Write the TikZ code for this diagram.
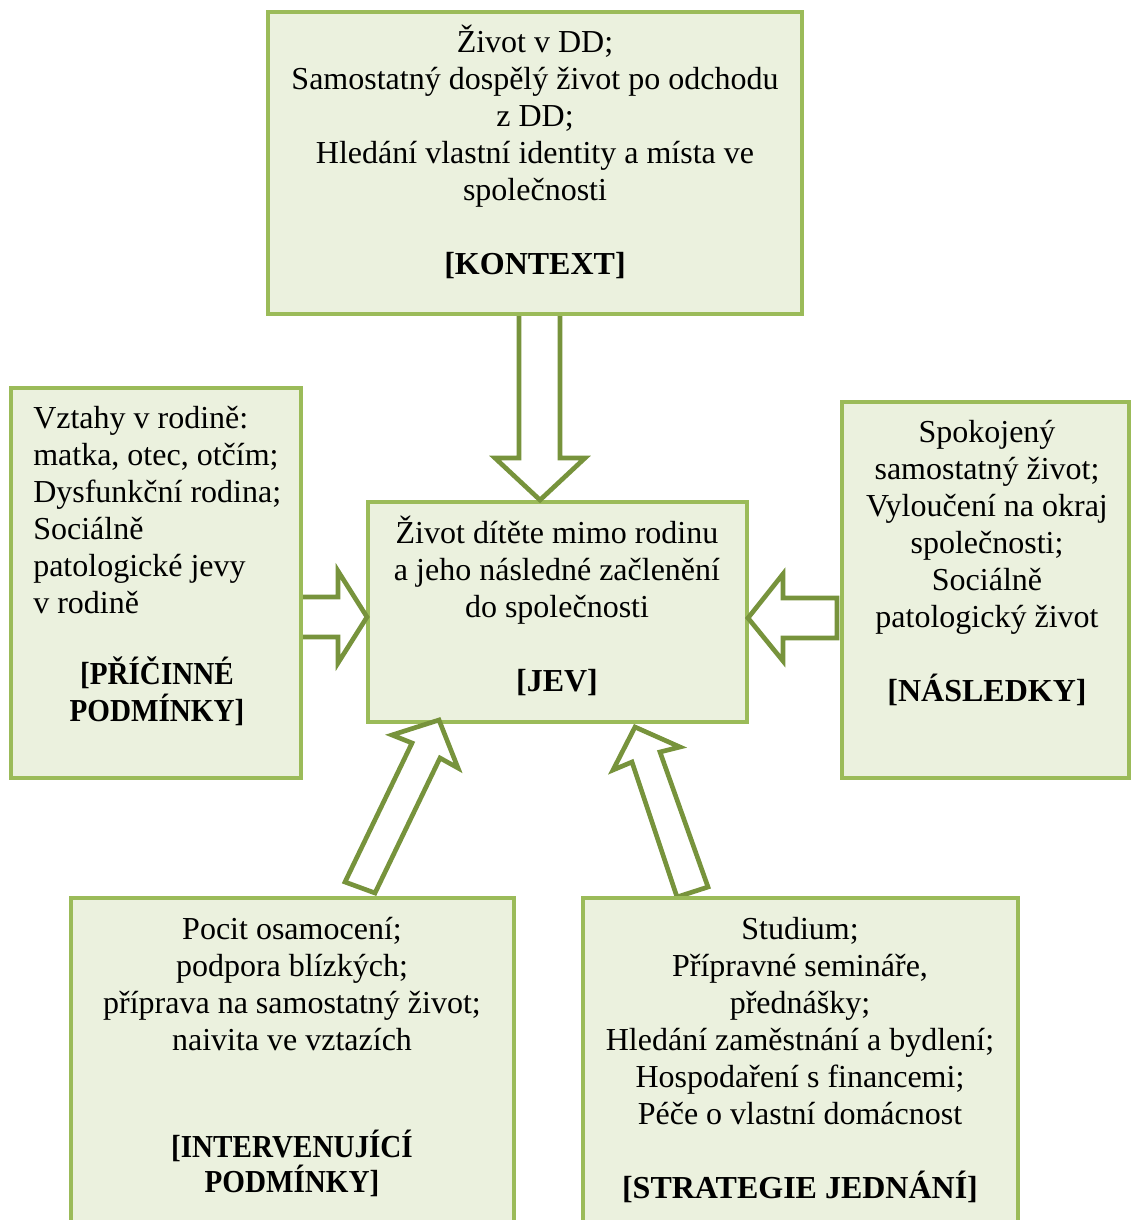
\documentclass[tikz,border=0pt]{standalone}
\usepackage{fontspec}
\usepackage{graphicx}
\setmainfont{Liberation Serif}
\definecolor{boxline}{HTML}{9BBB59}
\definecolor{boxfill}{HTML}{EBF1DE}
\definecolor{arrline}{HTML}{77933C}
\newcommand{\narrowbf}[1]{\scalebox{0.91}[1]{\textbf{#1}}}
\begin{document}
\begin{tikzpicture}[x=0.75pt,y=-0.75pt,
  box/.style={draw=boxline,fill=boxfill,line width=3pt,inner sep=0pt,outer sep=0pt,rectangle},
  blockarrow/.style={draw=arrline,fill=white,line width=3.5pt,line join=miter},
  txt/.style={inner sep=0pt,font=\fontsize{24}{27.75}\selectfont,execute at begin node=\strut,execute at end node=\strut}]
\useasboundingbox (0,0) rectangle (1133,1220);
\clip (0,0) rectangle (1133,1220);
% central box first so arrow tips lie over it
\node[box,minimum width=284.25pt,minimum height=165pt] (jev) at (557.5,612) {};
% block arrows
\draw[blockarrow] (519,300) -- (519,458) -- (495,458) -- (540,500) -- (585,458) -- (560,458) -- (560,300) -- cycle;
\draw[blockarrow] (280,597) -- (338,597) -- (338,571) -- (367,617) -- (338,663) -- (338,637) -- (280,637) -- cycle;
\draw[blockarrow] (837,598) -- (783,598) -- (783,574) -- (748,618) -- (783,661) -- (783,638) -- (837,638) -- cycle;
\draw[blockarrow] (345,882) -- (412,743) -- (392,735) -- (439,720) -- (458,768) -- (440,758) -- (375,893) -- cycle;
\draw[blockarrow] (677,897) -- (632,762) -- (613,770) -- (635,727) -- (680,747) -- (660,752) -- (708,887) -- cycle;
% surrounding boxes
\node[box,minimum width=400.5pt,minimum height=226.5pt] (ctx) at (535,163) {};
\node[box,minimum width=217.5pt,minimum height=292.5pt] (cause) at (156,583) {};
\node[box,minimum width=215.25pt,minimum height=282pt] (cons) at (985.5,590) {};
\node[box,minimum width=332.25pt,minimum height=264pt] (inter) at (292.5,1074) {};
\node[box,minimum width=326.25pt,minimum height=264pt] (strat) at (800.5,1074) {};
% texts
\node[txt,align=center] (ctxt) at (535,155.5) {Život v DD;\\ Samostatný dospělý život po odchodu\\ z DD;\\ Hledání vlastní identity a místa ve\\ společnosti\\[27.75pt] \textbf{[KONTEXT]}};
\node[txt,align=left,anchor=west] (causet) at (33,515) {Vztahy v rodině:\\ matka, otec, otčím;\\ Dysfunkční rodina;\\ Sociálně\\ patologické jevy\\ v rodině};
\node[txt,align=center] (causel) at (157,695) {\narrowbf{[PŘÍČINNÉ}\\ \narrowbf{PODMÍNKY]}};
\node[txt,align=center] (jevt) at (557,609) {Život dítěte mimo rodinu\\ a jeho následné začlenění\\ do společnosti\\[27.75pt] \textbf{[JEV]}};
\node[txt,align=center] (const) at (987,566) {Spokojený\\ samostatný život;\\ Vyloučení na okraj\\ společnosti;\\ Sociálně\\ patologický život\\[27.75pt] \textbf{[NÁSLEDKY]}};
\node[txt,align=center] (intert) at (292,1060.5) {Pocit osamocení;\\ podpora blízkých;\\ příprava na samostatný život;\\ naivita ve vztazích\\[53pt] \narrowbf{[INTERVENUJÍCÍ}\\[-1.5pt] \narrowbf{PODMÍNKY]}};
\node[txt,align=center] (stratt) at (800,1063) {Studium;\\ Přípravné semináře,\\ přednášky;\\ Hledání zaměstnání a bydlení;\\ Hospodaření s financemi;\\ Péče o vlastní domácnost\\[27.75pt] \textbf{[STRATEGIE JEDNÁNÍ]}};
\end{tikzpicture}
\end{document}
